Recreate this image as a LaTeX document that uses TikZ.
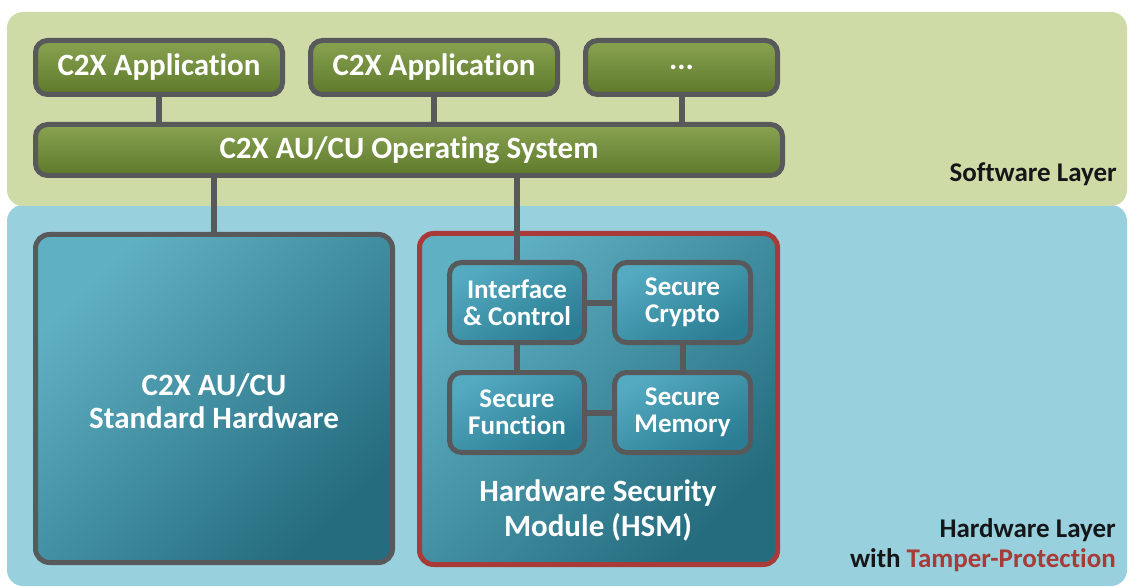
\documentclass[tikz,border=0pt]{standalone}
\usepackage{fontspec}
\setmainfont{Carlito}[Ligatures={NoCommon}]
\definecolor{swbg}{RGB}{206,219,167}
\definecolor{hwbg}{RGB}{153,208,222}
\definecolor{edgegray}{RGB}{88,89,91}
\definecolor{gtop}{RGB}{137,163,82}
\definecolor{gbot}{RGB}{94,121,43}
\definecolor{ttop}{RGB}{96,176,196}
\definecolor{tbot}{RGB}{36,108,126}
\definecolor{itop}{RGB}{84,170,193}
\definecolor{ibot}{RGB}{42,125,146}
\definecolor{tamper}{RGB}{168,58,56}
\definecolor{lbltext}{RGB}{20,22,24}
\begin{document}
\begin{tikzpicture}[x=1pt,y=-1pt,
  layerbox/.style={rounded corners=16pt, inner sep=0pt, outer sep=0pt},
  appbox/.style={draw=edgegray, line width=5pt, rounded corners=12pt,
    top color=gtop, bottom color=gbot, text=white, inner sep=0pt,
    font=\fontsize{31}{35}\selectfont\bfseries},
  tealbox/.style={draw=edgegray, line width=5pt, rounded corners=14pt,
    top color=ttop, bottom color=tbot, shading angle=45, text=white,
    align=center, inner sep=0pt, font=\fontsize{31}{33}\selectfont\bfseries},
  hsmbox/.style={draw=tamper, line width=5pt, rounded corners=14pt,
    top color=ttop, bottom color=tbot, shading angle=45, inner sep=0pt},
  inbox/.style={draw=edgegray, line width=5pt, rounded corners=12pt,
    top color=itop, bottom color=ibot, shading angle=30, text=white,
    align=center, inner sep=0pt, font=\fontsize{27}{27}\selectfont\bfseries},
  link/.style={draw=edgegray, line width=6pt},
  layerlbl/.style={font=\fontsize{27}{30}\selectfont\bfseries, text=lbltext,
    inner sep=0pt, anchor=base east}]
\useasboundingbox (0,0) rectangle (1130,588);
% layers
\node[layerbox, fill=hwbg, minimum width=1120pt, minimum height=381pt] (hwlayer) at (567,395.5) {};
\node[layerbox, fill=swbg, minimum width=1120pt, minimum height=194pt] (swlayer) at (567,109) {};
\node[layerlbl] (swlbl) at (1117,182) {Software Layer};
\node[layerlbl] (hwlbl) at (1116,537) {Hardware Layer};
\node[layerlbl] (tplbl) at (1116,567) {with \textcolor{tamper}{Tamper-Protection}};
% software boxes
\node[appbox, minimum width=247pt, minimum height=54pt] (app1) at (159,67.5) {C2X Application};
\node[appbox, minimum width=247pt, minimum height=54pt] (app2) at (434,67.5) {C2X Application};
\node[appbox, minimum width=192pt, minimum height=54pt] (more) at (681.5,67.5) {...};
\node[appbox, minimum width=747pt, minimum height=51pt] (os) at (409,150) {C2X AU/CU Operating System};
% hardware boxes
\node[tealbox, minimum width=357pt, minimum height=328pt] (stdhw) at (214,398.5) {};
\node[text=white, align=center, inner sep=0pt, font=\fontsize{31}{33}\selectfont\bfseries] (stdlbl) at (214,401) {C2X AU/CU\\Standard Hardware};
\node[hsmbox, minimum width=358pt, minimum height=331pt] (hsm) at (598.5,399) {};
\node[text=white, align=center, inner sep=0pt, font=\fontsize{31}{35}\selectfont\bfseries] (hsmlbl) at (598,510) {Hardware Security\\Module (HSM)};
\node[inbox, minimum width=135pt, minimum height=80pt] (iface) at (517,302.5) {Interface\\\& Control};
\node[inbox, minimum width=136pt, minimum height=80pt] (crypto) at (682.5,302.5) {Secure\\Crypto};
\node[inbox, minimum width=135pt, minimum height=80pt] (func) at (517,412.5) {Secure\\Function};
\node[inbox, minimum width=136pt, minimum height=80pt] (mem) at (682.5,412.5) {Secure\\Memory};
% connectors
\draw[link] (app1.south) -- (app1.south |- os.north);
\draw[link] (app2.south) -- (app2.south |- os.north);
\draw[link] (more.south) -- (more.south |- os.north);
\draw[link] (stdhw.north) -- (stdhw.north |- os.south);
\draw[link] (iface.north) -- (iface.north |- os.south);
\draw[link] (iface.east) -- (crypto.west);
\draw[link] (func.east) -- (mem.west);
\draw[link] (iface.south) -- (func.north);
\draw[link] (crypto.south) -- (mem.north);
\end{tikzpicture}
\end{document}
